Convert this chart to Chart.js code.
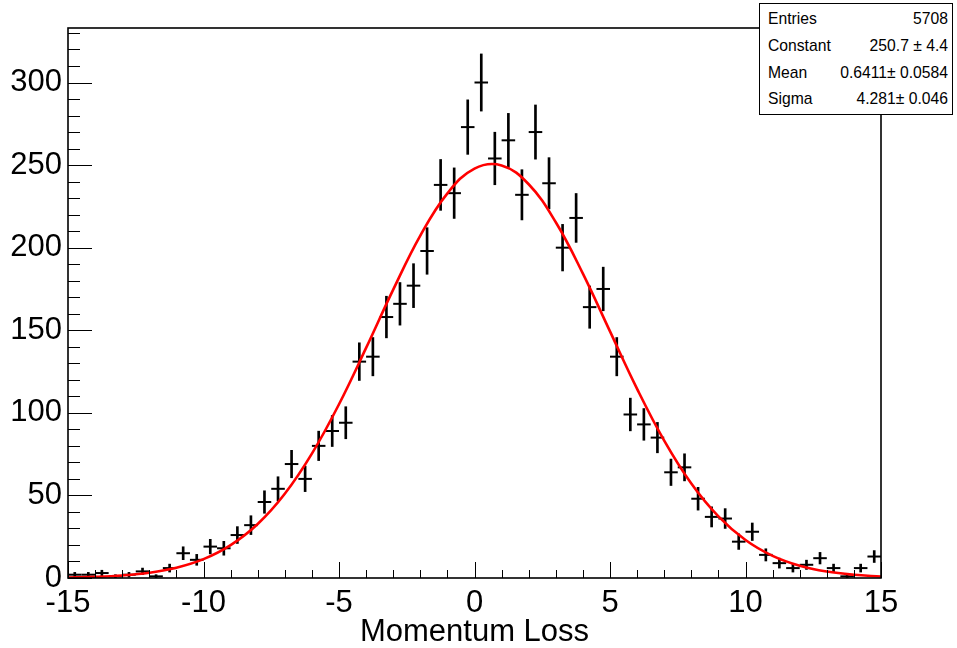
<!DOCTYPE html>
<html>
<head>
<meta charset="utf-8">
<script src="https://cdn.jsdelivr.net/npm/chart.js@4.4.0/dist/chart.umd.min.js"></script>
<style>
html,body{margin:0;padding:0;background:#fff;}
#wrap{position:relative;width:957px;height:648px;overflow:hidden;}
#stats{position:absolute;left:759px;top:3px;width:192px;height:110px;border:1px solid #000;background:#fff;
  font-family:"Liberation Sans",Arial,Helvetica,sans-serif;font-size:15.7px;color:#000;}
.row{position:absolute;left:8px;right:4px;height:20px;line-height:20px;display:flex;justify-content:space-between;white-space:pre;}
</style>
</head>
<body>
<div id="wrap">
<canvas id="c" width="957" height="648"></canvas>
<div id="stats">
  <div class="row" style="top:5px"><span>Entries</span><span>5708</span></div>
  <div class="row" style="top:32px"><span>Constant</span><span>250.7 ± 4.4</span></div>
  <div class="row" style="top:59px"><span>Mean</span><span>0.6411± 0.0584</span></div>
  <div class="row" style="top:85px"><span>Sigma</span><span>4.281± 0.046</span></div>
</div>
</div>
<script>
// ---- data ----
const binCenters = [-14.75,-14.25,-13.75,-13.25,-12.75,-12.25,-11.75,-11.25,-10.75,-10.25,
  -9.75,-9.25,-8.75,-8.25,-7.75,-7.25,-6.75,-6.25,-5.75,-5.25,
  -4.75,-4.25,-3.75,-3.25,-2.75,-2.25,-1.75,-1.25,-0.75,-0.25,
  0.25,0.75,1.25,1.75,2.25,2.75,3.25,3.75,4.25,4.75,
  5.25,5.75,6.25,6.75,7.25,7.75,8.25,8.75,9.25,9.75,
  10.25,10.75,11.25,11.75,12.25,12.75,13.25,13.75,14.25,14.75];
const counts = [2,2,3,1,2,4,1,6,15,11,
  19,18,26,32,46,54,69,60,80,89,
  94,131,134,158,166,177,198,238,233,273,
  300,254,265,232,270,239,200,218,164,175,
  134,99,93,85,64,67,48,37,36,22,
  28,14,9,6,8,12,6,1,6,13];
const errors = [1.4,1.4,1.7,1,1.4,2,1,2.4,3.9,3.3,
  4.4,4.2,5.1,5.7,6.8,7.3,8.3,7.7,8.9,9.4,
  9.7,11.4,11.6,12.6,12.9,13.3,14.1,15.4,15.3,16.5,
  17.3,15.9,16.3,15.2,16.4,15.5,14.1,14.8,12.8,13.2,
  11.6,9.9,9.6,9.2,8,8.2,6.9,6.1,6,4.7,
  5.3,3.7,3,2.4,2.8,3.5,2.4,1,2.4,3.6];
const fitX = [-15,-14,-13,-12,-11,-10,-9,-8,-7,-6,-5,-4,-3,-2,-1,0,1,2,3,4,5,6,7,8,9,10,11,12,13,14,15];
const fitY = [0.32,0.72,1.56,3.2,6.22,11.4,19.9,32.7,51.0,75.3,105.2,139.3,174.6,207.3,232.9,247.9,
  249.8,238.4,215.4,184.3,149.3,114.5,83.2,57.2,37.3,23.0,13.4,7.42,3.89,1.93,0.9];
const xTickValues = [-15,-10,-5,0,5,10,15];
const yTickValues = [0,50,100,150,200,250,300];
const xTitle = 'Momentum Loss';

// ---- chart ----
const font = {family:'"Liberation Sans", Arial, Helvetica, sans-serif', size:31};
const titleFont = {family:'"Liberation Sans", Arial, Helvetica, sans-serif', size:31, lineHeight:1.02};

const framePlugin = {
  id:'rootFrame',
  afterDraw(chart){
    const {ctx, chartArea:a, scales:{x, y}} = chart;
    ctx.save();
    ctx.strokeStyle = '#000';
    ctx.lineWidth = 1;
    for (let v = x.min; v <= x.max + 1e-9; v += 1) {
      const px = Math.round(x.getPixelForValue(v)) + 0.5;
      const len = (Math.abs(v % 5) < 1e-9) ? 16 : 8;
      ctx.beginPath(); ctx.moveTo(px, a.bottom); ctx.lineTo(px, a.bottom - len); ctx.stroke();
    }
    for (let v = 0; v <= y.max; v += 10) {
      const py = Math.round(y.getPixelForValue(v)) + 0.5;
      const len = (v % 50 === 0) ? 24 : 12;
      ctx.beginPath(); ctx.moveTo(a.left, py); ctx.lineTo(a.left + len, py); ctx.stroke();
    }
    ctx.lineWidth = 1.6;
    ctx.strokeRect(a.left, a.top, a.right - a.left, a.bottom - a.top);
    ctx.restore();
  }
};

new Chart(document.getElementById('c'), {
  type:'scatter',
  data:{
    datasets:[
      { type:'line', label:'gaus fit',
        data: fitX.map((x,i)=>({x:x, y:fitY[i]})),
        borderColor:'#ff0000', borderWidth:2.6, pointRadius:0, tension:0.4, fill:false, order:0 },
      { type:'bar', label:'error',
        data: binCenters.map((x,i)=>({x:x, y:[counts[i]-errors[i], counts[i]+errors[i]]})),
        backgroundColor:'#000', borderWidth:0, barThickness:2, order:1 },
      { type:'scatter', label:'counts',
        data: binCenters.map((x,i)=>({x:x, y:counts[i]})),
        pointStyle:'line', borderColor:'#000', backgroundColor:'#000', borderWidth:2,
        pointRadius: (c)=>{ const s=c.chart.scales.x; return s.getPixelForValue(0.25)-s.getPixelForValue(0); },
        order:2 }
    ]
  },
  options:{
    responsive:false, animation:false, events:[],
    layout:{padding:{top:28, right:76, left:0, bottom:0}},
    plugins:{legend:{display:false}, tooltip:{enabled:false}},
    scales:{
      x:{ type:'linear', min:-15, max:15, offset:false,
          grid:{display:false, drawTicks:false}, border:{display:false},
          afterBuildTicks:(s)=>{ s.ticks = xTickValues.map(v=>({value:v})); },
          ticks:{font:font, color:'#000', padding:7, maxRotation:0, autoSkip:false, includeBounds:false},
          title:{display:true, text:xTitle, font:titleFont, color:'#000', padding:{top:0, bottom:0}},
          afterFit:(s)=>{ s.height = 70; } },
      y:{ type:'linear', min:0, max:333,
          grid:{display:false, drawTicks:false}, border:{display:false},
          afterBuildTicks:(s)=>{ s.ticks = yTickValues.map(v=>({value:v})); },
          ticks:{font:font, color:'#000', padding:6, includeBounds:false},
          afterFit:(s)=>{ s.width = 68; } }
    }
  },
  plugins:[framePlugin]
});
</script>
</body>
</html>
